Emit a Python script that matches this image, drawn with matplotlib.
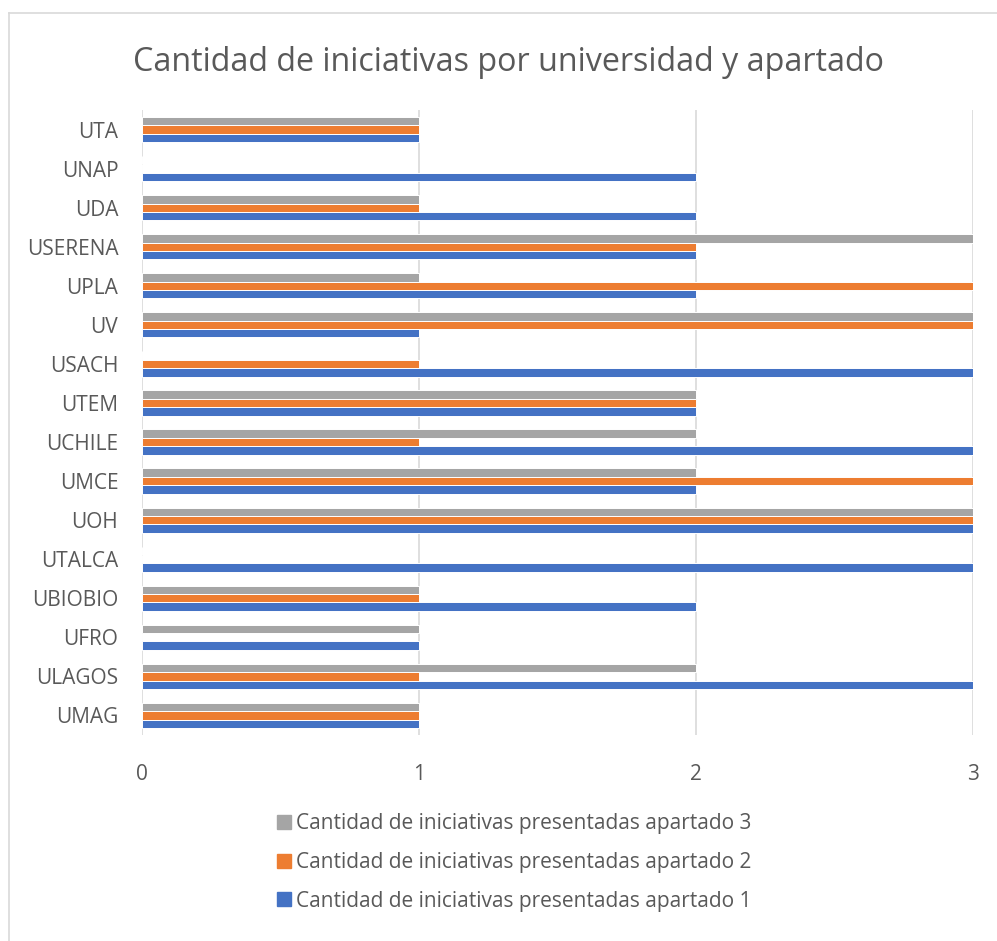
import matplotlib.pyplot as plt
import numpy as np
from matplotlib.lines import Line2D

plt.rcParams['font.family'] = ['Open Sans', 'DejaVu Sans']

# ================= Data =================
universities = ["UMAG", "ULAGOS", "UFRO", "UBIOBIO", "UTALCA", "UOH", "UMCE", "UCHILE",
                "UTEM", "USACH", "UV", "UPLA", "USERENA", "UDA", "UNAP", "UTA"]
apartado_1 = [1, 3, 1, 2, 3, 3, 2, 3, 2, 3, 1, 2, 2, 2, 2, 1]
apartado_2 = [1, 1, 0, 1, 0, 3, 3, 1, 2, 1, 3, 3, 2, 1, 0, 1]
apartado_3 = [1, 2, 1, 1, 0, 3, 2, 2, 2, 0, 3, 1, 3, 1, 0, 1]
series_labels = ["Cantidad de iniciativas presentadas apartado 1",
                 "Cantidad de iniciativas presentadas apartado 2",
                 "Cantidad de iniciativas presentadas apartado 3"]
colors = ["#4472C4", "#ED7D31", "#A5A5A5"]
text_color = "#595959"

fig = plt.figure(figsize=(9.97, 9.41), dpi=100)
ax = fig.add_axes([0.1424, 0.219, 0.8336, 0.664])

y = np.arange(len(universities))
h = 0.215
for i, vals in enumerate([apartado_1, apartado_2, apartado_3]):
    ax.barh(y + (i - 1) * h, vals, height=h, color=colors[i],
            edgecolor="white", linewidth=0.7, label=series_labels[i], zorder=3)

ax.set_xlim(0, 3)
ax.set_ylim(-0.5, len(universities) - 0.5)
ax.set_xticks([0, 1, 2, 3])
ax.set_yticks(y)
ax.set_yticklabels(universities)
ax.grid(axis="x", color="#D9D9D9", linewidth=1.2, zorder=0)
for s in ax.spines.values():
    s.set_visible(False)
ax.tick_params(axis="both", length=0, labelsize=15, colors=text_color)
ax.tick_params(axis="x", pad=21)
ax.tick_params(axis="y", pad=17)

fig.suptitle("Cantidad de iniciativas por universidad y apartado",
             x=0.51, y=0.934, fontsize=23.2, color=text_color, va="center")

handles = [Line2D([], [], marker="s", linestyle="none", markersize=10,
                  markerfacecolor=colors[i], markeredgecolor=colors[i], label=series_labels[i])
           for i in [2, 1, 0]]
fig.legend(handles=handles, loc="center", bbox_to_anchor=(0.514, 0.0835), frameon=False,
           fontsize=15, labelcolor=text_color, handletextpad=0.1, labelspacing=0.85,
           handlelength=1.0)

# chart border
fig.add_artist(Line2D([9 / 997, 1], [1 - 13 / 941] * 2, color="#D9D9D9", lw=1.2,
                      transform=fig.transFigure))
fig.add_artist(Line2D([9 / 997] * 2, [0, 1 - 13 / 941], color="#D9D9D9", lw=1.2,
                      transform=fig.transFigure))

fig.savefig("out.png", dpi=100)
